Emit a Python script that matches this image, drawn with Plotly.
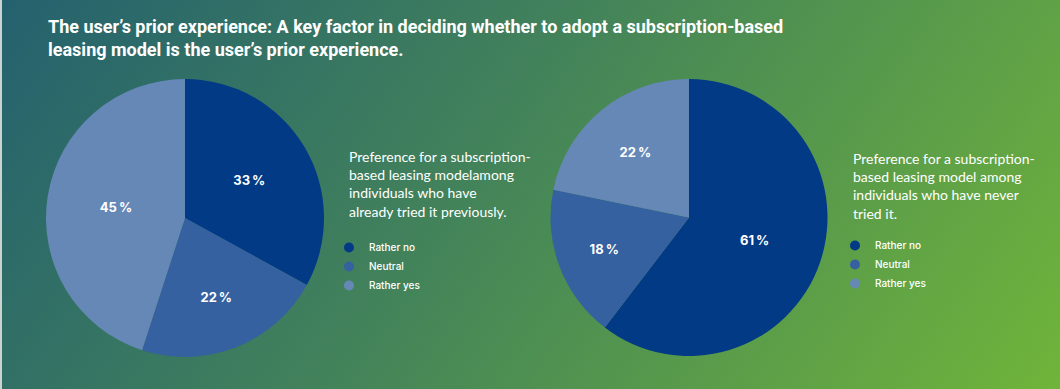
import base64
import plotly.graph_objects as go

# ---- data ----
categories = ["Rather no", "Neutral", "Rather yes"]
tried_values = [33, 22, 45]
never_values = [61, 18, 22]
slice_colors = ["#023A85", "#3561A0", "#6688B6"]

title_text = ("The user’s prior experience: A key factor in deciding whether to adopt a subscription-based<br>"
              "leasing model is the user’s prior experience.")
desc_tried = ("Preference for a subscription-<br>based leasing modelamong<br>"
              "individuals who have<br>already tried it previously.")
desc_never = ("Preference for a subscription-<br>based leasing model among<br>"
              "individuals who have never<br>tried it.")

W, H = 1060, 389

# background gradient (teal top-left -> green bottom-right)
svg = f'''<svg xmlns="http://www.w3.org/2000/svg" width="{W}" height="{H}">
<defs><linearGradient id="g" gradientUnits="userSpaceOnUse" x1="0" y1="0" x2="900" y2="620">
<stop offset="0" stop-color="#24616F"/>
<stop offset="0.45" stop-color="#43835A"/>
<stop offset="1" stop-color="#70B43A"/>
</linearGradient></defs>
<rect width="{W}" height="{H}" fill="url(#g)"/>
<rect width="2" height="{H}" fill="#C9D3D0"/>
</svg>'''
bg_src = "data:image/svg+xml;base64," + base64.b64encode(svg.encode()).decode()

fig = go.Figure()

def px_x(p):
    return p / W

def px_y(p):
    return 1 - p / H

def pie_domain(cx, cy, r):
    return dict(x=[px_x(cx - r), px_x(cx + r)], y=[px_y(cy + r), px_y(cy - r)])

label_font = dict(family="Inter, Roboto, sans-serif", size=13, color="white", weight="bold")

for vals, dom in [(tried_values, pie_domain(185, 218, 139)),
                  (never_values, pie_domain(689, 217.5, 138.5))]:
    fig.add_trace(go.Pie(
        labels=categories, values=vals,
        text=[f"{v}\u2009%" for v in vals],
        textinfo="text", textposition="inside",
        insidetextorientation="horizontal",
        sort=False, direction="clockwise", rotation=0,
        marker=dict(colors=slice_colors, line=dict(width=0)),
        textfont=label_font, domain=dom, showlegend=False,
        hoverinfo="label+percent",
    ))

# legend entries with circle markers
for lg in ["legend", "legend2"]:
    for cat, col in zip(categories, slice_colors):
        fig.add_trace(go.Scatter(
            x=[None], y=[None], mode="markers", name=cat,
            marker=dict(color=col, size=10, symbol="circle"),
            legend=lg, showlegend=True, hoverinfo="skip",
        ))

legend_font = dict(family="Inter, Roboto, sans-serif", size=10, color="white", weight=500)
desc_font = dict(family="Lato, Open Sans, sans-serif", size=14, color="white")
fig.update_layout(
    width=W, height=H,
    margin=dict(l=0, r=0, t=0, b=0),
    paper_bgcolor="#3f7f58", plot_bgcolor="rgba(0,0,0,0)",
    xaxis=dict(visible=False), yaxis=dict(visible=False),
    images=[dict(source=bg_src, xref="paper", yref="paper", x=0, y=1,
                 sizex=1, sizey=1, sizing="stretch", layer="below",
                 xanchor="left", yanchor="top")],
    legend=dict(x=px_x(329), y=px_y(233), xanchor="left", yanchor="top",
                bgcolor="rgba(0,0,0,0)", font=legend_font, tracegroupgap=0),
    legend2=dict(x=px_x(835), y=px_y(231), xanchor="left", yanchor="top",
                 bgcolor="rgba(0,0,0,0)", font=legend_font, tracegroupgap=0),
    annotations=[
        dict(text=title_text, x=px_x(46), y=px_y(14), xref="paper", yref="paper",
             xanchor="left", yanchor="top", align="left", showarrow=False,
             font=dict(family="Roboto, sans-serif", size=18, color="white", weight="bold")),
        dict(text=desc_tried, x=px_x(347), y=px_y(146), xref="paper", yref="paper",
             xanchor="left", yanchor="top", align="left", showarrow=False, font=desc_font),
        dict(text=desc_never, x=px_x(851), y=px_y(148), xref="paper", yref="paper",
             xanchor="left", yanchor="top", align="left", showarrow=False, font=desc_font),
    ],
)

fig.write_html("out.html",
               config={"displayModeBar": False},
               post_script="document.body.style.margin='0';document.body.style.overflow='hidden';"
                           "document.body.style.background='#6cb03c';")
